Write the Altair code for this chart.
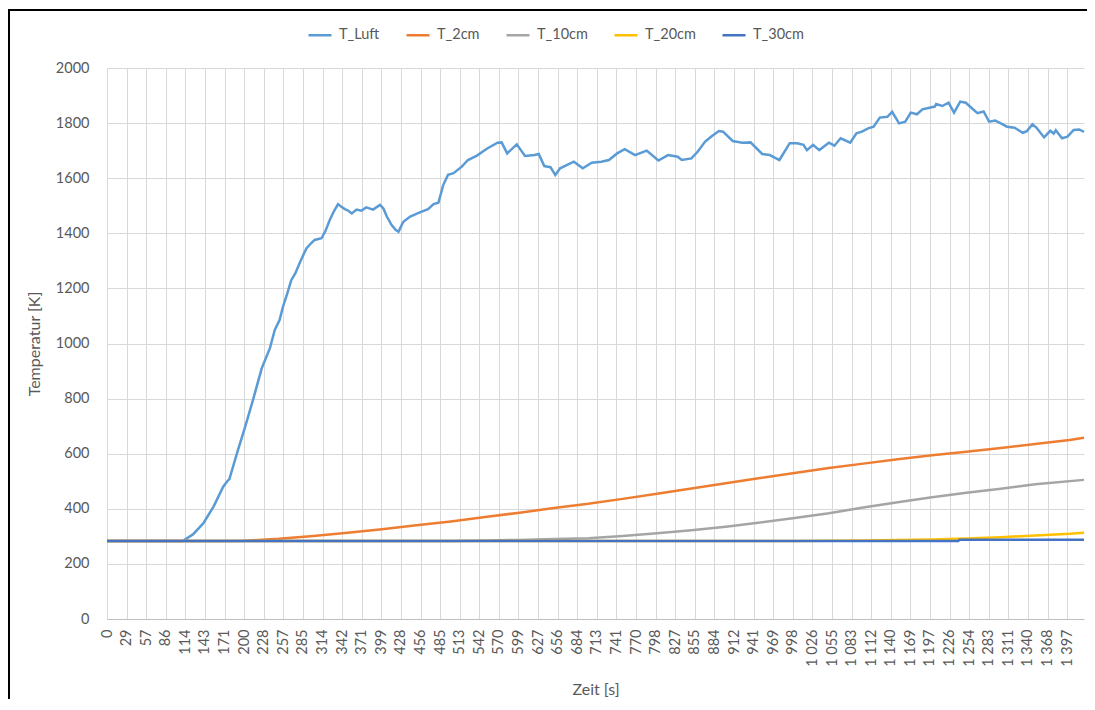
import altair as alt
import pandas as pd

SERIES = ["T_Luft", "T_2cm", "T_10cm", "T_20cm", "T_30cm"]
COLORS = ["#5B9BD5", "#ED7D31", "#A5A5A5", "#FFC000", "#4472C4"]

# T_Luft (air temperature)
LUFT_T = [0, 110, 125, 140, 155, 169, 175, 178, 189, 201, 213, 225, 237, 244, 251, 256,
          262, 268, 274, 281, 290, 296, 302, 312, 318, 324, 330, 336, 341, 346, 351, 356,
          363, 370, 377, 387, 397, 402, 407, 414, 420, 424, 431, 441, 455, 467, 475, 482,
          489, 496, 504, 516, 525, 538, 553, 568, 574, 582, 596, 608, 622, 628, 636, 645,
          652, 659, 679, 692, 705, 719, 730, 742, 753, 768, 785, 802, 816, 830, 836, 850,
          859, 870, 879, 890, 896, 910, 924, 936, 953, 964, 978, 993, 1004, 1013, 1018, 1027,
          1036, 1050, 1058, 1067, 1081, 1090, 1098, 1107, 1115, 1124, 1135, 1142, 1152, 1161,
          1169, 1178, 1186, 1204, 1206, 1215, 1224, 1232, 1241, 1249, 1258, 1266, 1275, 1283,
          1292, 1300, 1309, 1320, 1332, 1338, 1346, 1352, 1363, 1372, 1377, 1380, 1389, 1397,
          1406, 1414, 1421]
LUFT_V = [283, 283, 307, 347, 408, 480, 500, 508, 601, 698, 801, 910, 983, 1049, 1085, 1134,
          1180, 1230, 1255, 1297, 1345, 1362, 1376, 1382, 1410, 1448, 1480, 1506, 1496, 1488, 1482, 1472,
          1486, 1482, 1494, 1486, 1503, 1490, 1461, 1430, 1412, 1406, 1442, 1461, 1476, 1488, 1506, 1511,
          1575, 1612, 1618, 1642, 1666, 1682, 1708, 1729, 1730, 1690, 1723, 1681, 1684, 1688, 1644, 1640,
          1612, 1636, 1660, 1636, 1656, 1660, 1666, 1690, 1705, 1684, 1700, 1664, 1684, 1678, 1666, 1672,
          1696, 1733, 1751, 1771, 1769, 1735, 1729, 1730, 1688, 1684, 1666, 1727, 1727, 1721, 1702, 1721,
          1702, 1729, 1718, 1745, 1729, 1763, 1769, 1781, 1787, 1820, 1823, 1841, 1799, 1805,
          1838, 1832, 1850, 1860, 1869, 1862, 1874, 1838, 1878, 1874, 1854, 1836, 1842, 1805,
          1809, 1799, 1787, 1783, 1765, 1771, 1796, 1783, 1748, 1772, 1762, 1774, 1745, 1751,
          1775, 1777, 1768]

# T_2cm
CM2_T = [0, 180, 200, 250, 300, 350, 400, 450, 500, 550, 600, 650, 700, 750, 800, 850,
         900, 950, 1000, 1050, 1100, 1150, 1200, 1250, 1300, 1350, 1400, 1421]
CM2_V = [283, 283, 284, 291, 301, 313, 326, 340, 354, 370, 386, 403, 418, 436, 455, 474,
         493, 512, 530, 548, 564, 580, 594, 607, 621, 635, 650, 658]

# T_10cm
CM10_T = [0, 500, 550, 600, 650, 700, 750, 800, 850, 900, 950, 1000, 1050, 1100, 1150,
          1200, 1250, 1300, 1350, 1421]
CM10_V = [283, 283, 285, 287, 290, 293, 301, 311, 322, 335, 350, 367, 384, 405, 424,
          442, 458, 473, 489, 505]

# T_20cm
CM20_T = [0, 1000, 1050, 1100, 1150, 1200, 1250, 1300, 1350, 1400, 1421]
CM20_V = [283, 283, 284, 285, 287, 289, 292, 297, 303, 309, 313]

# T_30cm
CM30_T = [0, 1238, 1240, 1421]
CM30_V = [283, 283, 288, 288]

X_TICKS = [k * 28.5 for k in range(50)]
Y_TICKS = [0, 200, 400, 600, 800, 1000, 1200, 1400, 1600, 1800, 2000]

rows = []
for name, ts, vs in [("T_Luft", LUFT_T, LUFT_V), ("T_2cm", CM2_T, CM2_V),
                     ("T_10cm", CM10_T, CM10_V), ("T_20cm", CM20_T, CM20_V),
                     ("T_30cm", CM30_T, CM30_V)]:
    for t, v in zip(ts, vs):
        rows.append({"t": t, "T": v, "series": name})
df = pd.DataFrame(rows)

FONT = "Lato"
TXT = "#595959"
GRID = "#D9D9D9"

x_enc = alt.X(
    "t:Q",
    scale=alt.Scale(domain=[0, 1421], nice=False, zero=False),
    axis=alt.Axis(
        values=X_TICKS, title="Zeit [s]", labelAngle=270, labelAlign="right",
        labelBaseline="middle",
        labelExpr="replace(format(round(datum.value), ','), ',', ' ')",
        grid=True, gridColor=GRID, ticks=False, labelOverlap=False, labelFlush=False,
        labelPadding=10, domainColor="#BFBFBF", titlePadding=15,
    ),
)
y_enc = alt.Y(
    "T:Q",
    scale=alt.Scale(domain=[0, 2000], nice=False),
    axis=alt.Axis(
        values=Y_TICKS, title="Temperatur [K]", grid=True, gridColor=GRID, format="d",
        ticks=False, domain=False, labelPadding=18, titlePadding=13,
    ),
)
color_enc = alt.Color(
    "series:N",
    scale=alt.Scale(domain=SERIES, range=COLORS),
    legend=alt.Legend(
        title=None, orient="none", direction="horizontal", legendX=200, legendY=-46,
        symbolType="stroke", symbolSize=529, symbolStrokeWidth=2.5, labelOffset=6,
        columnPadding=21, labelFont=FONT, labelFontSize=14.5, labelColor=TXT,
    ),
)

base = alt.Chart(df)
layers = []
for s in SERIES:
    layers.append(
        base.transform_filter(alt.datum.series == s)
        .mark_line(strokeWidth=2.5)
        .encode(x=x_enc, y=y_enc, color=color_enc)
    )

one = pd.DataFrame({"a": [0]})
frame_left = alt.Chart(one).mark_rule(color="black", strokeWidth=2).encode(
    x=alt.value(-98), y=alt.value(-59), y2=alt.value(631)
)
frame_top = alt.Chart(one).mark_rect(fill="black", strokeWidth=0).encode(
    x=alt.value(-99), x2=alt.value(980), y=alt.value(-59), y2=alt.value(-57)
)

chart = alt.layer(*layers, frame_left, frame_top).properties(
    width=977, height=551,
    autosize=alt.AutoSizeParams(type="none"),
    padding={"left": 99, "top": 60, "right": 3, "bottom": 80},
).configure_view(stroke=None).configure_axis(
    labelFont=FONT, labelFontSize=14.5, labelColor=TXT,
    titleFont=FONT, titleFontSize=16, titleColor=TXT, titleFontWeight="normal",
)

chart.save("out.html", embed_options={"renderer": "svg", "actions": False})
